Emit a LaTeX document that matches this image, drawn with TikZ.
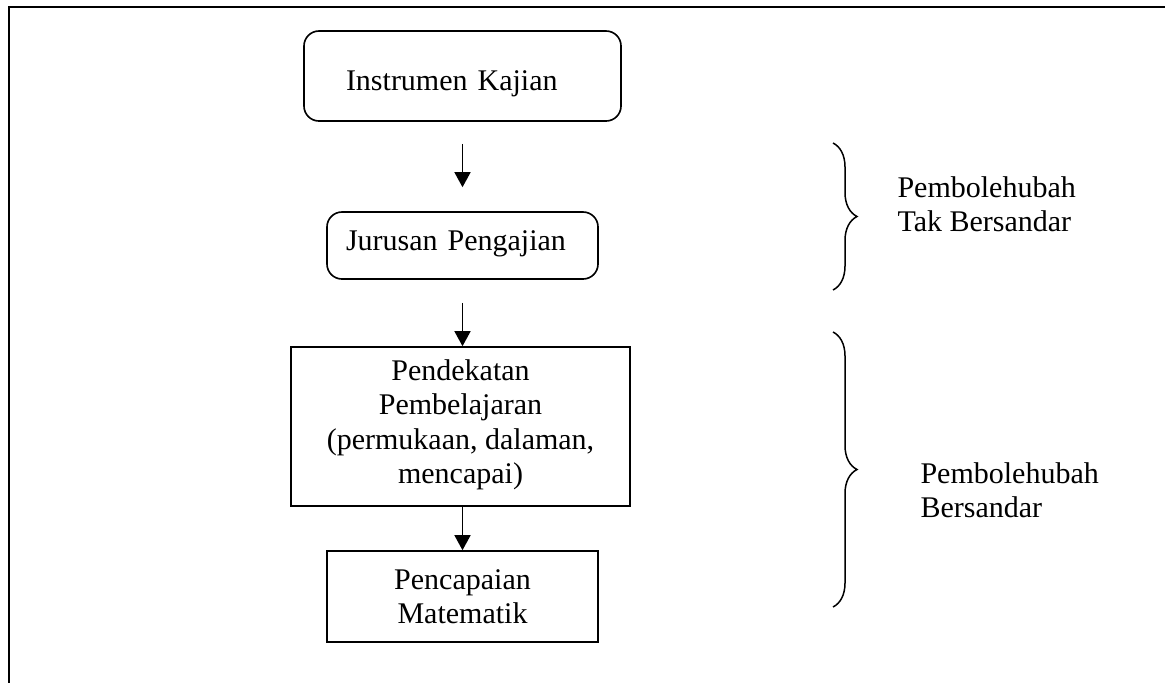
\documentclass[tikz,border=0pt]{standalone}
\usepackage{fontspec}
\setmainfont{Liberation Serif}
\usetikzlibrary{arrows.meta,decorations.pathreplacing}
\begin{document}
\begin{tikzpicture}[x=0.4pt,y=-0.4pt,
  txt/.style={font=\fontsize{12pt}{13.8pt}\selectfont, inner sep=0pt},
  rbox/.style={txt, draw, line width=0.65pt, rounded corners=6pt},
  sbox/.style={txt, draw, line width=0.65pt, align=center},
  arr/.style={line width=0.6pt, -{Triangle[length=6pt,width=6.4pt]}},
  brc/.style={line width=0.6pt, decorate, decoration={brace, amplitude=9.6pt}},
  lbl/.style={txt, align=left, anchor=west}]
\useasboundingbox (0,0) rectangle (1165,682);
\draw[line width=1pt] (9,700) -- (9,7) -- (1180,7);
\node[rbox, minimum width=126.8pt, minimum height=36pt, text width=93.2pt, align=left, text height=14pt, text depth=2.8pt] (ik) at (462.5,76) {Instrumen Kajian};
\node[rbox, minimum width=108.4pt, minimum height=26.8pt, text width=93.2pt, align=left, text height=7pt, text depth=3.4pt] (jp) at (462.5,245.5) {Jurusan Pengajian};
\node[sbox, minimum width=135.6pt, minimum height=63.6pt, text depth=4pt] (pp) at (460.5,426.5) {Pendekatan\\Pembelajaran\\(permukaan, dalaman,\\mencapai)};
\node[sbox, minimum width=108.4pt, minimum height=36.4pt] (pm) at (462.5,596.5) {Pencapaian\\Matematik};
\draw[arr, shorten <=8.8pt, shorten >=9.6pt] (ik.south) -- (jp.north);
\draw[arr, shorten <=9.2pt] (jp.south) -- (jp.south |- pp.north);
\draw[arr] (pm.north |- pp.south) -- (pm.north);
\coordinate (b1t) at (833,143); \coordinate (b1b) at (833,290);
\coordinate (b2t) at (833,332); \coordinate (b2b) at (833,607);
\draw[brc] (b1t) -- (b1b);
\draw[brc] (b2t) -- (b2b);
\node[lbl] (l1) at (897,204) {Pembolehubah\\Tak Bersandar};
\node[lbl] (l2) at (920,490) {Pembolehubah\\Bersandar};
\end{tikzpicture}
\end{document}
